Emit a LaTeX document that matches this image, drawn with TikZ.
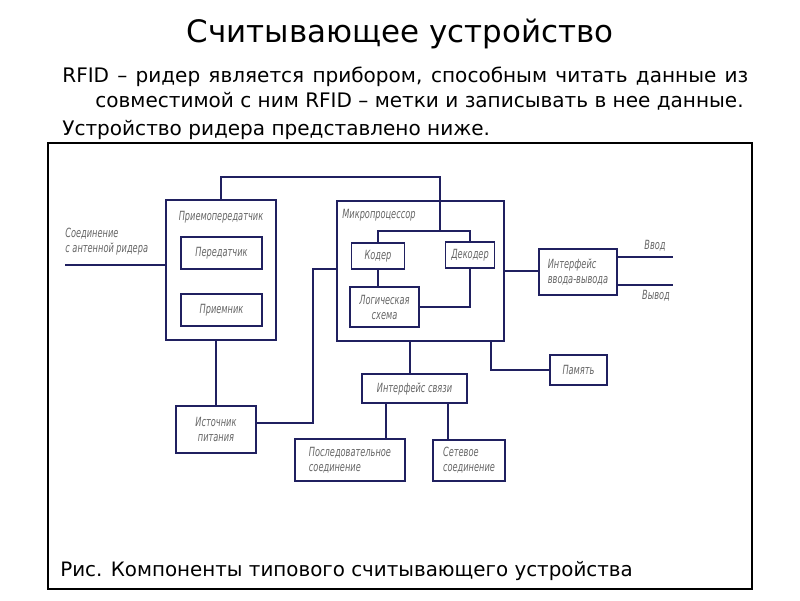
\documentclass[tikz,border=0pt]{standalone}
\usepackage{fontspec}
\setmainfont{DejaVu Sans}
\newfontfamily\gostfont[FakeStretch=0.65]{DejaVu Sans}
\usetikzlibrary{positioning}
\definecolor{ink}{RGB}{32,32,96}

\begin{document}
\begin{tikzpicture}[
            x=0.02cm, y=-0.02cm,
            blk/.style={rectangle, draw=ink, line width=1pt, inner sep=1pt, text=black!60, font=\gostfont\itshape\fontsize{7.2}{8.5}\selectfont},
            lbl/.style={inner sep=0pt, text=black!60, font=\gostfont\itshape\fontsize{7.2}{8.5}\selectfont},
            link/.style={draw=ink, line width=1pt},
            para/.style={anchor=base west, inner sep=0pt, font=\fontsize{11.4}{13}\selectfont}
        ]

        \useasboundingbox[fill=white] (0,0) rectangle (800,600);

        \node[anchor=base, inner sep=0pt, font=\fontsize{17.6}{20}\selectfont] (title) at (400,42) {Считывающее устройство};
        \node[para] (p1) at (62,82) {\makebox[13.72cm][s]{RFID – ридер является прибором, способным читать данные из}};
        \node[para] (p2) at (95,107) {совместимой с ним RFID – метки и записывать в нее данные.};
        \node[para] (p3) at (62,135) {Устройство ридера представлено ниже.};
        \draw[line width=0.6pt] (48,143) rectangle (752,589);
        \node[para, font=\fontsize{11.3}{13}\selectfont] (cap) at (60,576) {Рис. Компоненты типового считывающего устройства};

        % receiver / transmitter
        \node[blk, minimum width=2.2cm, minimum height=2.8cm] (trx) at (221,270) {};
        \node[lbl] (trxlbl) at (221,217) {Приемопередатчик};
        \node[blk, minimum width=1.62cm, minimum height=0.64cm] (tx) at (221.5,253) {Передатчик};
        \node[blk, minimum width=1.62cm, minimum height=0.64cm] (rx) at (221.5,310) {Приемник};
        \node[lbl, anchor=west, align=left] (antlbl) at (65,242) {Соединение\\с антенной ридера};

        % microprocessor
        \node[blk, minimum width=3.34cm, minimum height=2.8cm] (mcu) at (420.5,271) {};
        \node[lbl, anchor=west] (mculbl) at (342,215) {Микропроцессор};
        \node[blk, minimum width=1.06cm, minimum height=0.52cm] (coder) at (378,256) {Кодер};
        \node[blk, minimum width=0.98cm, minimum height=0.52cm] (decoder) at (470,255) {Декодер};
        \node[blk, minimum width=1.38cm, minimum height=0.8cm, align=center] (logic) at (384.5,307) {Логическая\\схема};

        \node[blk, minimum width=1.56cm, minimum height=0.92cm, align=left] (io) at (578,272) {Интерфейс\\ввода-вывода};
        \node[lbl] (inlbl) at (655,246) {Ввод};
        \node[lbl] (outlbl) at (656,296) {Вывод};
        \node[blk, minimum width=1.14cm, minimum height=0.6cm] (mem) at (578.5,370) {Память};
        \node[blk, minimum width=2.1cm, minimum height=0.58cm] (comm) at (414.5,388.5) {Интерфейс связи};
        \node[blk, minimum width=1.6cm, minimum height=0.94cm, align=center] (psu) at (216,429.5) {Источник\\питания};
        \node[blk, minimum width=2.2cm, minimum height=0.84cm, align=left] (serial) at (350,460) {Последовательное\\соединение};
        \node[blk, minimum width=1.44cm, minimum height=0.82cm, align=left] (net) at (469,460.5) {Сетевое\\соединение};

        \coordinate (ant) at (65,265);
        \coordinate (topc) at (440,177);
        \coordinate (bus) at (440,231);
        \coordinate (inend) at (673,257);
        \coordinate (outend) at (673,285);
        \coordinate (lk) at (313,269);
        \coordinate (memtap) at (491,341);

        \draw[link] (ant) -- (ant -| trx.west);
        \draw[link] (trx.north) |- (topc) -- (bus);
        \draw[link] (coder.north) |- (bus) -| (decoder.north);
        \draw[link] (coder.south) -- (coder.south |- logic.north);
        \draw[link] (decoder.south) |- (logic.east);
        \draw[link] (mcu.east) -- (mcu.east -| io.west);
        \draw[link] (inend -| io.east) -- (inend);
        \draw[link] (outend -| io.east) -- (outend);
        \draw[link] ([yshift=0.13cm]psu.east) -| (lk) -- (lk -| mcu.west);
        \draw[link] (psu.north |- trx.south) -- (psu.north);
        \draw[link] ([xshift=-0.09cm]comm.north |- mcu.south) -- ([xshift=-0.09cm]comm.north);
        \draw[link] (memtap) |- (mem.west);
        \draw[link] ([xshift=-0.57cm]comm.south) -- ([xshift=-0.57cm]comm.south |- serial.north);
        \draw[link] ([xshift=0.67cm]comm.south) -- ([xshift=0.67cm]comm.south |- net.north);
\end{tikzpicture}
\end{document}
